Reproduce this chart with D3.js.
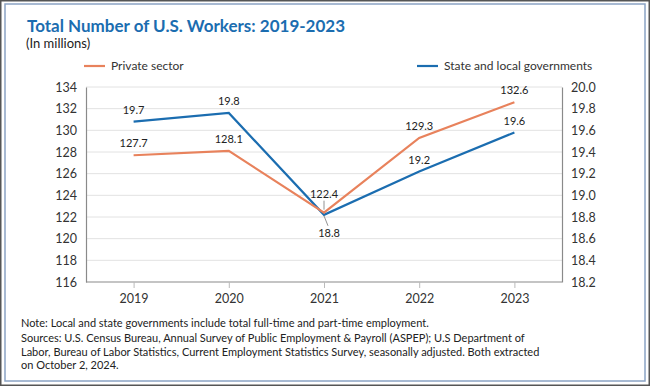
<!DOCTYPE html>
<html>
<head>
<meta charset="utf-8">
<script src="https://cdn.jsdelivr.net/npm/d3@7"></script>
<style>
  body { margin: 0; background: #fff; }
  svg { display: block; font-family: Lato, "Open Sans", sans-serif; }
</style>
</head>
<body>
<div id="vis"></div>
<script>
'use strict'

// data (millions)
const years = ["2019", "2020", "2021", "2022", "2023"];
const privateSector = [127.7, 128.1, 122.4, 129.3, 132.6];
const stateLocal = [19.68, 19.76, 18.82, 19.22, 19.58];
const leftTicks = [116, 118, 120, 122, 124, 126, 128, 130, 132, 134];
const rightTicks = [18.2, 18.4, 18.6, 18.8, 19.0, 19.2, 19.4, 19.6, 19.8, 20.0];

const W = 650, H = 386;
const margin = { top: 87, right: 88, bottom: 104, left: 86 };
const width = W - margin.left - margin.right;
const height = H - margin.top - margin.bottom;

const orange = "#e8825c";
const blue = "#1b6db0";

const svg = d3.select("#vis").append("svg")
  .attr("width", W)
  .attr("height", H);

// frame
svg.append("rect").attr("x", 0.5).attr("y", 0.5).attr("width", W - 1).attr("height", H - 1)
  .attr("fill", "none").attr("stroke", "#555").attr("stroke-width", 2);
svg.append("rect").attr("x", 5).attr("y", 4).attr("width", 640).attr("height", 377)
  .attr("fill", "none").attr("stroke", "#8aa3c4").attr("stroke-width", 1.5);

// titles
svg.append("text").attr("x", 27).attr("y", 32)
  .attr("fill", "#1b6db0").attr("font-size", 17).attr("font-weight", 700)
  .text("Total Number of U.S. Workers: 2019-2023");
svg.append("text").attr("x", 26).attr("y", 48)
  .attr("fill", "#222").attr("font-size", 13)
  .text("(In millions)");

const g = svg.append("g").attr("transform", `translate(${margin.left},${margin.top})`);

////////////// Scales //////////////
const x = d3.scalePoint().domain(years).range([0, width]).padding(0.5);
const yL = d3.scaleLinear().domain([116, 134]).range([height, 0]);
const yR = d3.scaleLinear().domain([18.2, 20.0]).range([height, 0]);

// grid
g.append("g").selectAll("line")
  .data(leftTicks.slice(1))
  .join("line")
  .attr("x1", 0).attr("x2", width)
  .attr("y1", d => yL(d)).attr("y2", d => yL(d))
  .attr("stroke", "#e2e2e2").attr("stroke-width", 1);

// axes
const axisL = g.append("g")
  .call(d3.axisLeft(yL).tickValues(leftTicks).tickSize(0).tickPadding(9));
const axisR = g.append("g").attr("transform", `translate(${width},0)`)
  .call(d3.axisRight(yR).tickValues(rightTicks).tickFormat(d3.format(".1f")).tickSize(0).tickPadding(9));
const axisB = g.append("g").attr("transform", `translate(0,${height})`)
  .call(d3.axisBottom(x).tickSize(6).tickPadding(6));

[axisL, axisR, axisB].forEach(a => {
  a.select(".domain").attr("stroke", "#8a8a8a").attr("stroke-width", 1.2);
  a.selectAll("text").attr("fill", "#333").attr("font-size", 12.5).attr("font-family", "Lato, sans-serif");
  a.selectAll(".tick line").attr("stroke", "#bbb");
});
axisB.select(".domain").attr("d", `M0,0H${width}`);

////////////// Lines //////////////
const lineL = d3.line().x((d, i) => x(years[i])).y(d => yL(d));
const lineR = d3.line().x((d, i) => x(years[i])).y(d => yR(d));

g.append("path").datum(stateLocal)
  .attr("fill", "none").attr("stroke", blue).attr("stroke-width", 2.2)
  .attr("stroke-linejoin", "miter").attr("d", lineR);
g.append("path").datum(privateSector)
  .attr("fill", "none").attr("stroke", orange).attr("stroke-width", 2.2)
  .attr("stroke-linejoin", "miter").attr("d", lineL);

////////////// Labels //////////////
const fmt = d3.format(".1f");

g.append("g").selectAll("text")
  .data(privateSector)
  .join("text")
  .attr("x", (d, i) => x(years[i]))
  .attr("y", (d, i) => yL(d) - (i === 2 ? 15 : 8))
  .attr("text-anchor", "middle")
  .attr("font-size", 11).attr("fill", "#222")
  .text(d => fmt(d));

g.append("g").selectAll("text")
  .data(stateLocal)
  .join("text")
  .attr("x", (d, i) => x(years[i]) + (i === 2 ? 5 : 0))
  .attr("y", (d, i) => i === 2 ? yR(d) + 22 : yR(d) - 8)
  .attr("text-anchor", "middle")
  .attr("font-size", 11).attr("fill", "#222")
  .text(d => fmt(d));

// leader lines at 2021
const x21 = x("2021");
g.append("line")
  .attr("x1", x21).attr("x2", x21)
  .attr("y1", yL(privateSector[2]) - 12).attr("y2", yL(privateSector[2]) - 3)
  .attr("stroke", "#777").attr("stroke-width", 0.8);
g.append("line")
  .attr("x1", x21).attr("x2", x21 + 4)
  .attr("y1", yR(stateLocal[2]) + 1).attr("y2", yR(stateLocal[2]) + 11)
  .attr("stroke", "#777").attr("stroke-width", 0.8);

////////////// Legend //////////////
const legend = [
  { name: "Private sector", color: orange, x: 84 },
  { name: "State and local governments", color: blue, x: 417 }
];
const lg = svg.append("g").selectAll("g")
  .data(legend)
  .join("g")
  .attr("transform", d => `translate(${d.x},66)`);
lg.append("line").attr("x1", 0).attr("x2", 21)
  .attr("stroke", d => d.color).attr("stroke-width", 2.2);
lg.append("text").attr("x", 27).attr("y", 4)
  .attr("font-size", 12).attr("fill", "#333")
  .text(d => d.name);

////////////// Notes //////////////
const notes = [
  "Note: Local and state governments include total full-time and part-time employment.",
  "Sources: U.S. Census Bureau, Annual Survey of Public Employment & Payroll (ASPEP); U.S Department of",
  "Labor, Bureau of Labor Statistics, Current Employment Statistics Survey, seasonally adjusted. Both extracted",
  "on October 2, 2024."
];
const noteY = [327, 342, 356, 369];
svg.append("g").selectAll("text")
  .data(notes)
  .join("text")
  .attr("x", 21)
  .attr("y", (d, i) => noteY[i])
  .attr("font-size", 11).attr("fill", "#222")
  .text(d => d);
</script>
</body>
</html>
